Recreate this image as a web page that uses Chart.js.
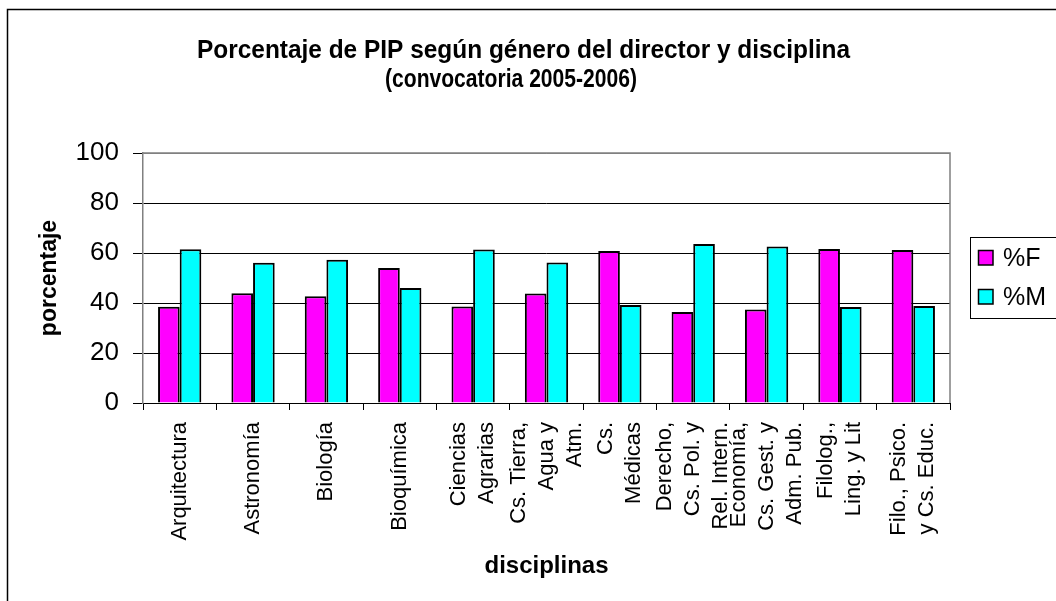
<!DOCTYPE html>
<html><head><meta charset="utf-8">
<script src="https://cdn.jsdelivr.net/npm/chart.js@4/dist/chart.umd.min.js"></script>
<style>html,body{margin:0;padding:0;background:#fff;}</style>
</head><body>
<canvas id="c" width="1056" height="601"></canvas>
<script>
const titleLines = ['Porcentaje de PIP según género del director y disciplina', '(convocatoria 2005-2006)'];
const categories = [
  'Arquitectura',
  'Astronomía',
  'Biología',
  'Bioquímica',
  ['Ciencias', 'Agrarias'],
  ['Cs. Tierra,', 'Agua y', 'Atm.'],
  ['Cs.', 'Médicas'],
  ['Derecho,', 'Cs. Pol. y', 'Rel. Intern.'],
  ['Economía,', 'Cs. Gest. y', 'Adm. Pub.'],
  ['Filolog.,', 'Ling. y Lit'],
  ['Filo., Psico.', 'y Cs. Educ.']
];
const seriesNames = ['%F', '%M'];
const femalePct = [38.5, 43.9, 42.7, 54.0, 38.6, 43.8, 60.8, 36.4, 37.4, 61.6, 61.2];
const malePct   = [61.5, 56.1, 57.3, 46.0, 61.4, 56.2, 39.2, 63.6, 62.6, 38.4, 38.8];
const yTicks = [0, 20, 40, 60, 80, 100];

const FONT = "'Liberation Sans', Arial, sans-serif";

// Center multi-line rotated x tick labels on their category
const centerTickLines = {
  id: 'centerTickLines',
  beforeDraw(chart) {
    const sc = chart.scales.x;
    const items = sc.getLabelItems(chart.chartArea);
    if (items._centered) return;
    items.forEach(it => {
      const n = Array.isArray(it.label) ? it.label.length : 1;
      it.textOffset -= (n - 1) * it.font.lineHeight / 2;
    });
    items._centered = true;
  }
};

const decor = {
  id: 'decor',
  afterDraw(chart) {
    const ctx = chart.ctx;
    const a = chart.chartArea;
    ctx.save();
    // outer frame (left and top)
    ctx.strokeStyle = '#000';
    ctx.lineWidth = 1.5;
    ctx.beginPath();
    ctx.moveTo(7.5, 601); ctx.lineTo(7.5, 9.5); ctx.lineTo(1056, 9.5);
    ctx.stroke();
    // plot area border (top, right)
    ctx.strokeStyle = '#808080';
    ctx.lineWidth = 1.5;
    ctx.beginPath();
    ctx.moveTo(a.left, a.top); ctx.lineTo(a.right, a.top); ctx.lineTo(a.right, a.bottom);
    ctx.stroke();
    // title
    ctx.fillStyle = '#000';
    ctx.font = "bold 25px " + FONT;
    ctx.textAlign = 'center';
    ctx.textBaseline = 'alphabetic';
    const tpos = [[523.5, 58, 653], [511, 86.5, 252]];
    titleLines.forEach((t, i) => {
      const w = ctx.measureText(t).width;
      ctx.save();
      ctx.translate(tpos[i][0], tpos[i][1]);
      ctx.scale(Math.min(1, tpos[i][2] / w), 1);
      ctx.fillText(t, 0, 0);
      ctx.restore();
    });
    // legend
    ctx.strokeStyle = '#000';
    ctx.lineWidth = 1;
    ctx.strokeRect(970.5, 237.5, 120, 81);
    ctx.font = "25px " + FONT;
    ctx.textAlign = 'left';
    chart.data.datasets.forEach((ds, i) => {
      const y = 250 + i * 39;
      ctx.fillStyle = ds.backgroundColor;
      ctx.fillRect(978, y, 15, 15);
      ctx.strokeStyle = '#000';
      ctx.lineWidth = 1.5;
      ctx.strokeRect(978.5, y + 0.5, 14.5, 14.5);
      ctx.fillStyle = '#000';
      ctx.fillText(ds.label, 1003, y + 16);
    });
    ctx.restore();
  }
};

new Chart(document.getElementById('c'), {
  type: 'bar',
  data: {
    labels: categories,
    datasets: [
      { label: seriesNames[0], data: femalePct, backgroundColor: '#FF00FF', borderColor: '#000', borderWidth: 2, barPercentage: 1, categoryPercentage: 0.59 },
      { label: seriesNames[1], data: malePct, backgroundColor: '#00FFFF', borderColor: '#000', borderWidth: 2, barPercentage: 1, categoryPercentage: 0.59 }
    ]
  },
  options: {
    responsive: false,
    animation: false,
    devicePixelRatio: 1,
    layout: { padding: { left: 0, right: 106, top: 153, bottom: 0 } },
    plugins: { legend: { display: false }, title: { display: false }, tooltip: { enabled: false } },
    scales: {
      x: {
        grid: { display: true, drawOnChartArea: false, drawTicks: true, tickLength: 7, color: '#000', offset: true },
        border: { display: true, color: '#000', width: 1 },
        ticks: { autoSkip: false, maxRotation: 90, minRotation: 90, padding: 12, color: '#000',
                 font: { family: FONT, size: 22, lineHeight: 1.27 } },
        title: { display: true, text: 'disciplinas', color: '#000',
                 font: { family: FONT, size: 24, weight: 'bold' }, padding: { top: 0, bottom: 20 } },
        afterFit: (s) => { s.height = 198; }
      },
      y: {
        min: 0, max: 100,
        afterBuildTicks: (s) => { s.ticks = yTicks.map(v => ({ value: v })); },
        grid: { color: (c) => (c.tick && c.tick.value === 100) ? '#808080' : '#000', tickColor: '#000', tickLength: 10, drawTicks: true },
        border: { display: true, color: '#808080', width: 1.5 },
        ticks: { padding: 14, color: '#000', font: { family: FONT, size: 26 } },
        title: { display: true, text: 'porcentaje', color: '#000',
                 font: { family: FONT, size: 23, weight: 'bold' }, padding: { top: 36, bottom: 0 } },
        afterFit: (s) => { s.width = 143; }
      }
    }
  },
  plugins: [centerTickLines, decor]
});
</script>
</body></html>
